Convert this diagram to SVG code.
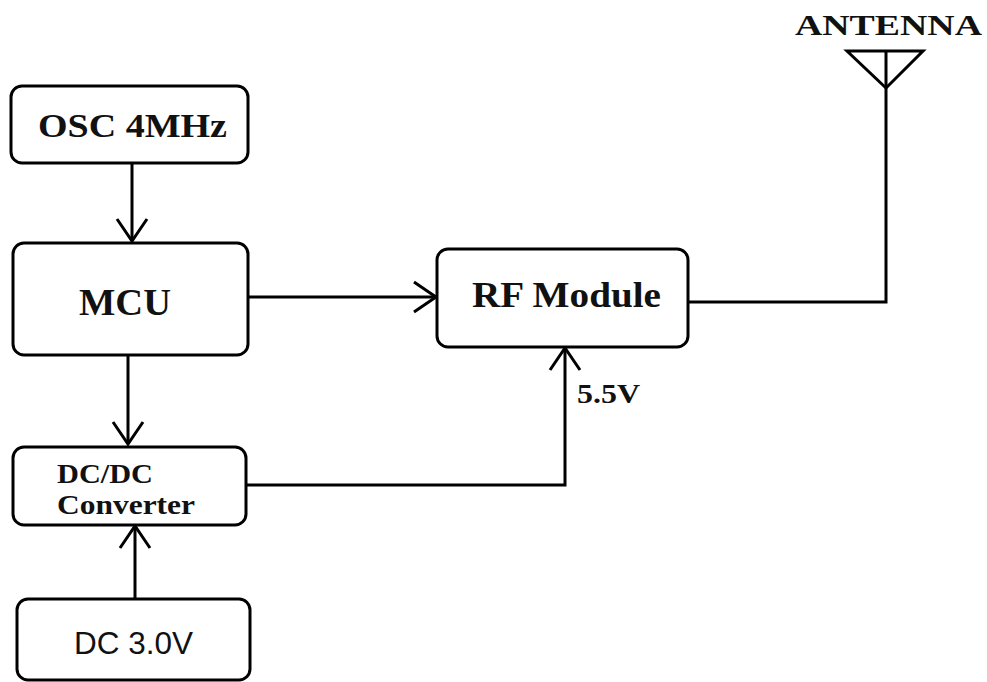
<svg xmlns="http://www.w3.org/2000/svg" width="987" height="682" viewBox="0 0 987 682">
<defs>
<style>
.box{fill:#fff;stroke:#000;stroke-width:3}
.ln{fill:none;stroke:#000;stroke-width:3}
.serif{font-family:"Liberation Serif","Times New Roman",serif;font-weight:bold;fill:#111}
.sans{font-family:"Liberation Sans",Arial,sans-serif;fill:#111}
</style>
<marker id="arr" markerUnits="userSpaceOnUse" markerWidth="40" markerHeight="40" viewBox="-25 -20 30 40" refX="0" refY="0" orient="auto">
<path d="M-22,-15 L0,0 L-22,15" fill="none" stroke="#000" stroke-width="3"/>
</marker>
</defs>
<rect width="987" height="682" fill="#fff"/>
<g id="connectors">
<line class="ln" x1="132" y1="163" x2="132" y2="241" marker-end="url(#arr)"/>
<line class="ln" x1="128" y1="355" x2="128" y2="444" marker-end="url(#arr)"/>
<line class="ln" x1="135" y1="599" x2="135" y2="526" marker-end="url(#arr)"/>
<line class="ln" x1="248" y1="297" x2="436" y2="297" marker-end="url(#arr)"/>
<polyline class="ln" points="246,485 565,485 565,348" marker-end="url(#arr)"/>
<polyline class="ln" points="688,302 886,302 886,51"/>
</g>
<g id="osc">
<rect class="box" x="11" y="86" width="237" height="77" rx="11"/>
<text class="serif" x="38" y="137" font-size="33" textLength="189" lengthAdjust="spacingAndGlyphs">OSC 4MHz</text>
</g>
<g id="mcu">
<rect class="box" x="13" y="243" width="235" height="112" rx="11"/>
<text class="serif" x="79" y="315" font-size="37" textLength="92" lengthAdjust="spacingAndGlyphs">MCU</text>
</g>
<g id="dcdc">
<rect class="box" x="13" y="447" width="233" height="78" rx="11"/>
<text class="serif" x="57" y="483" font-size="27" textLength="96" lengthAdjust="spacingAndGlyphs">DC/DC</text>
<text class="serif" x="57" y="514" font-size="27" textLength="138" lengthAdjust="spacingAndGlyphs">Converter</text>
</g>
<g id="dc3v">
<rect class="box" x="17" y="599" width="233" height="81" rx="11"/>
<text class="sans" x="74" y="654" font-size="31" textLength="119" lengthAdjust="spacingAndGlyphs">DC 3.0V</text>
</g>
<g id="rf">
<rect class="box" x="437" y="249" width="251" height="98" rx="11"/>
<text class="serif" x="472" y="307" font-size="35" textLength="189" lengthAdjust="spacingAndGlyphs">RF Module</text>
</g>
<g id="label55">
<text class="serif" x="577" y="403" font-size="28" textLength="63" lengthAdjust="spacingAndGlyphs">5.5V</text>
</g>
<g id="antenna">
<text class="serif" x="795" y="35" font-size="29" textLength="187" lengthAdjust="spacingAndGlyphs">ANTENNA</text>
<path class="ln" d="M847,51 L923,51 L886,88 Z"/>
</g>
</svg>
